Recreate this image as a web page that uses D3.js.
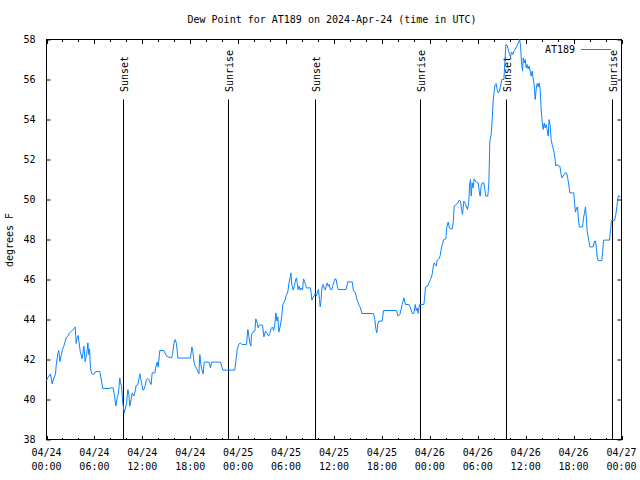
<!DOCTYPE html>
<html>
<head>
<meta charset="utf-8">
<script src="https://cdn.jsdelivr.net/npm/d3@7"></script>
<style>
  html, body { margin: 0; padding: 0; background: #fff; }
  svg { display: block; }
  text { font-family: "DejaVu Sans Mono", monospace; font-size: 10px; fill: #000; }
</style>
</head>
<body>
<svg id="chart" width="640" height="480"></svg>
<script>
// ---------- data ----------
const titleText = "Dew Point for AT189 on 2024-Apr-24 (time in UTC)";
const yLabel = "degrees F";
const seriesName = "AT189";
const startDate = "2024-04-24T00:00:00Z";
const endDate = "2024-04-27T00:00:00Z";
const yTicks = [38, 40, 42, 44, 46, 48, 50, 52, 54, 56, 58];

// hours after 2024-04-24 00:00 UTC
const hours = [
 0.00,0.17,0.50,0.71,0.92,1.13,1.21,1.42,1.54,1.67,1.84,2.00,2.17,2.46,2.67,2.88,3.13,3.42,3.59,3.72,
 3.84,3.97,4.09,4.22,4.47,4.68,4.84,5.05,5.18,5.30,5.39,5.51,5.64,5.93,6.14,6.68,6.85,7.05,7.81,8.01,
 8.35,8.52,8.68,8.85,8.97,9.10,9.18,9.27,9.39,9.56,9.73,9.89,10.02,10.19,10.31,10.44,10.60,10.73,10.94,11.06,
 11.23,11.44,11.60,11.69,11.77,11.90,12.06,12.19,12.36,12.52,12.69,12.81,12.94,13.11,13.23,13.57,13.69,13.86,13.98,14.19,
 14.69,15.03,15.65,15.78,15.95,16.11,16.28,16.45,18.03,18.20,18.32,18.45,18.58,18.87,19.08,19.20,19.33,19.45,19.62,19.74,
 20.33,20.54,20.66,21.79,22.08,23.58,23.71,23.88,24.08,24.25,24.50,25.04,25.21,25.34,25.46,25.59,25.67,25.84,26.09,26.21,
 26.38,26.51,26.63,27.05,27.22,27.42,27.63,27.80,27.97,28.13,28.30,28.43,28.55,28.72,28.84,28.97,29.09,29.22,29.34,29.47,
 29.59,29.72,29.89,30.01,30.22,30.35,30.51,30.60,30.72,30.89,31.06,31.18,31.31,31.39,31.51,31.64,31.76,31.89,32.06,32.18,
 32.31,32.43,32.56,33.06,33.23,33.35,33.52,33.64,33.81,33.94,34.06,34.19,34.27,34.39,34.48,34.64,34.77,34.90,35.02,35.15,
 35.27,35.40,35.56,35.73,35.86,36.11,36.27,36.40,36.52,37.52,37.73,38.28,38.44,38.65,38.90,39.15,39.32,39.49,40.95,41.11,
 41.24,41.36,41.49,41.62,42.03,42.20,43.83,43.99,44.25,44.54,44.75,44.95,45.37,45.58,45.79,46.00,46.17,46.29,46.42,46.54,
 46.71,47.25,47.33,47.46,47.75,47.92,48.09,48.29,48.42,48.54,48.67,48.79,48.92,49.13,49.30,49.42,49.55,49.75,50.01,50.13,
 50.30,50.42,50.55,50.80,50.92,51.05,51.30,51.51,51.67,51.84,51.97,52.09,52.26,52.43,52.55,52.72,52.89,52.97,53.09,53.18,
 53.30,53.43,53.55,53.68,53.85,54.05,54.18,54.30,54.43,54.55,54.76,54.89,55.01,55.26,55.39,55.47,55.51,55.68,55.81,55.93,
 56.06,56.18,56.31,56.43,56.56,56.68,56.81,57.02,57.27,57.39,57.52,57.69,57.81,57.98,58.10,58.23,58.39,58.52,58.69,58.85,
 58.98,59.10,59.23,59.35,59.48,59.61,59.69,59.81,59.94,60.06,60.19,60.31,60.44,60.57,60.69,60.82,60.94,61.07,61.19,61.32,
 61.44,61.57,61.69,61.82,61.94,62.07,62.19,62.32,62.44,62.57,62.69,62.82,62.94,63.07,63.19,63.32,63.53,63.65,63.78,63.95,
 64.11,64.28,64.41,64.53,64.70,64.82,64.95,65.12,65.24,65.37,65.53,66.03,66.12,66.24,66.37,66.49,66.58,66.70,67.12,67.24,
 67.37,67.49,67.58,67.70,67.83,67.95,68.04,68.45,68.62,68.75,68.87,68.95,69.08,69.54,69.66,69.75,70.50,70.62,70.75,71.12,
 71.29,71.42,71.54,71.67,71.90
];

const dewPoint = [
 40.95,41.10,41.28,40.78,41.08,41.28,41.70,42.30,42.45,41.90,42.20,42.50,42.67,43.08,43.17,43.33,43.42,43.53,43.63,42.80,
 43.08,43.20,42.83,42.42,42.03,42.67,41.90,42.30,42.83,42.25,42.53,41.58,41.30,41.25,41.40,41.40,41.00,40.55,40.55,40.58,
 40.58,40.17,39.67,40.08,40.25,40.70,41.08,40.83,40.67,39.80,39.33,39.58,39.80,40.50,40.25,39.67,40.00,40.33,40.17,40.33,
 40.70,40.75,41.08,41.28,41.08,40.87,40.47,40.50,40.70,41.00,41.05,41.00,40.87,40.75,41.33,41.33,41.63,41.87,41.62,42.45,
 42.45,42.17,42.07,42.25,42.80,43.00,42.80,42.07,42.07,42.63,42.42,41.92,41.70,41.50,41.28,42.25,41.75,41.50,41.28,41.87,
 41.87,41.58,41.87,41.87,41.47,41.47,41.92,42.50,42.75,42.83,42.75,42.75,43.50,43.17,42.83,42.67,43.25,43.37,43.42,44.03,
 43.83,43.58,43.72,43.72,43.13,43.42,43.30,43.17,43.30,43.55,43.63,43.45,43.63,44.33,43.92,44.13,43.37,43.58,43.83,44.20,
 44.75,44.83,45.00,45.20,45.38,45.80,46.08,46.33,45.75,45.47,45.70,46.00,46.08,45.80,45.50,45.67,45.47,45.58,45.47,46.03,
 45.92,45.75,45.58,45.58,44.97,45.08,45.20,45.30,45.17,45.42,45.50,45.00,44.63,45.00,45.58,45.75,45.55,45.47,45.67,45.83,
 45.67,45.75,45.50,45.50,45.70,46.03,46.00,45.70,45.50,45.50,45.88,45.88,45.42,45.37,44.97,44.70,44.58,44.30,44.30,44.00,
 43.53,43.33,43.78,43.92,43.92,44.45,44.45,44.17,44.25,44.75,45.08,44.75,44.75,44.58,44.30,44.30,44.75,44.45,44.58,44.30,
 44.75,44.75,45.00,45.63,45.67,45.87,46.00,46.25,46.63,46.83,46.75,46.67,46.97,47.03,47.20,47.50,47.75,48.00,48.03,48.63,
 48.87,48.63,48.53,48.53,48.83,49.67,49.75,49.83,49.97,49.92,49.50,49.25,49.92,49.80,49.67,49.50,49.92,50.67,51.00,50.17,
 50.83,50.58,51.03,50.92,50.87,50.83,50.42,50.17,50.67,50.83,50.83,50.50,50.17,50.17,50.83,52.17,52.92,53.25,54.00,54.92,
 55.42,55.75,55.80,55.50,55.33,55.37,55.58,56.00,56.00,56.83,57.75,57.70,57.53,57.25,57.13,57.37,57.25,57.42,57.50,57.63,
 57.75,57.83,58.00,57.75,56.83,56.42,57.08,56.83,57.00,56.58,56.75,56.53,56.67,56.42,56.17,56.42,56.03,55.75,55.00,55.50,
 55.80,55.63,55.83,55.50,54.50,53.87,53.50,53.83,53.58,53.75,53.50,53.17,54.00,53.67,53.00,52.75,52.42,52.08,51.67,51.75,
 51.67,51.67,51.33,51.08,51.17,51.25,51.33,51.33,51.13,50.83,50.33,50.33,49.83,49.37,49.58,49.63,49.17,48.63,48.63,49.08,
 49.33,49.63,49.17,48.42,48.13,47.83,47.63,47.63,47.92,47.92,47.50,47.13,46.95,46.95,47.47,47.97,47.97,48.45,48.95,48.95,
 49.25,49.63,50.08,50.20,50.10
];

// sunrise / sunset events (hours after start)
const sunEventHours = [9.62, 22.80, 33.70, 46.85, 57.62, 70.85];
const sunEventLabels = ["Sunset", "Sunrise", "Sunset", "Sunrise", "Sunset", "Sunrise"];

// ---------- drawing ----------
const svg = d3.select("#chart");
const t0 = new Date(startDate).getTime();
const toDate = h => new Date(t0 + h * 3600e3);

const x = d3.scaleUtc().domain([new Date(startDate), new Date(endDate)]).range([46.5, 621.5]);
const y = d3.scaleLinear().domain([38, 58]).range([439.5, 39.5]);

const data = hours.map((h, i) => ({ t: toDate(h), v: dewPoint[i] }));

// title
svg.append("text").attr("x", 332).attr("y", 23).attr("text-anchor", "middle").text(titleText);

// y label
svg.append("text").attr("transform", "translate(13,240) rotate(-90)")
  .attr("text-anchor", "middle").text(yLabel);

// minor + major x ticks bottom and top
function xTicks(axisFn, every, size, ty) {
  const g = svg.append("g").attr("transform", `translate(0,${ty})`)
    .call(axisFn(x).ticks(d3.utcHour.every(every)).tickSize(size).tickSizeOuter(0).tickFormat(""));
  g.select(".domain").remove();
  g.selectAll("line").attr("stroke", "#000").attr("shape-rendering", "crispEdges");
}
xTicks(d3.axisBottom, 2, -2, 439.5);
xTicks(d3.axisBottom, 6, -4, 439.5);
xTicks(d3.axisTop, 2, -2, 39.5);
xTicks(d3.axisTop, 6, -4, 39.5);

// x labels (two lines)
const majorTicks = x.ticks(d3.utcHour.every(6));
const fmtDate = d3.utcFormat("%m/%d");
const fmtTime = d3.utcFormat("%H:%M");
const xl = svg.append("g");
xl.selectAll("text.d").data(majorTicks).join("text")
  .attr("x", d => x(d)).attr("y", 456).attr("text-anchor", "middle").text(d => fmtDate(d));
xl.selectAll("text.t").data(majorTicks).join("text")
  .attr("x", d => x(d)).attr("y", 470).attr("text-anchor", "middle").text(d => fmtTime(d));

// y axis left and right
const yl = svg.append("g").attr("transform", "translate(46.5,0)")
  .call(d3.axisLeft(y).tickValues(yTicks).tickSize(-4).tickSizeOuter(0).tickPadding(11).tickFormat(d3.format("d")));
yl.select(".domain").remove();
yl.selectAll("line").attr("stroke", "#000");
yl.selectAll("text").style("font-family", "DejaVu Sans Mono, monospace").style("font-size", "10px");
const yr = svg.append("g").attr("transform", "translate(621.5,0)")
  .call(d3.axisRight(y).tickValues(yTicks).tickSize(-4).tickSizeOuter(0).tickFormat(""));
yr.select(".domain").remove();
yr.selectAll("line").attr("stroke", "#000");

// frame
svg.append("rect").attr("x", 46.5).attr("y", 39.5).attr("width", 575).attr("height", 400)
  .attr("fill", "none").attr("stroke", "#000").attr("stroke-width", 1);

// sun event lines
const sunX = h => Math.floor(x(toDate(h))) + 0.5;
const sun = svg.append("g");
sun.selectAll("line").data(sunEventHours).join("line")
  .attr("x1", sunX).attr("x2", sunX)
  .attr("y1", y(55)).attr("y2", y(38)).attr("stroke", "#000").attr("stroke-width", 1);
sun.selectAll("text").data(sunEventHours).join("text")
  .attr("transform", h => `translate(${sunX(h) + 4.5},92) rotate(-90)`)
  .attr("text-anchor", "start").text((h, i) => sunEventLabels[i]);

// series line
const line = d3.line().x(d => x(d.t)).y(d => y(d.v));
svg.append("path").datum(data).attr("d", line)
  .attr("fill", "none").attr("stroke", "#0a84ff").attr("stroke-width", 1);

// legend
svg.append("text").attr("x", 575).attr("y", 53).attr("text-anchor", "end").text(seriesName);
svg.append("line").attr("x1", 581).attr("x2", 611).attr("y1", 49.5).attr("y2", 49.5)
  .attr("stroke", "#0a84ff").attr("stroke-width", 1);
</script>
</body>
</html>
